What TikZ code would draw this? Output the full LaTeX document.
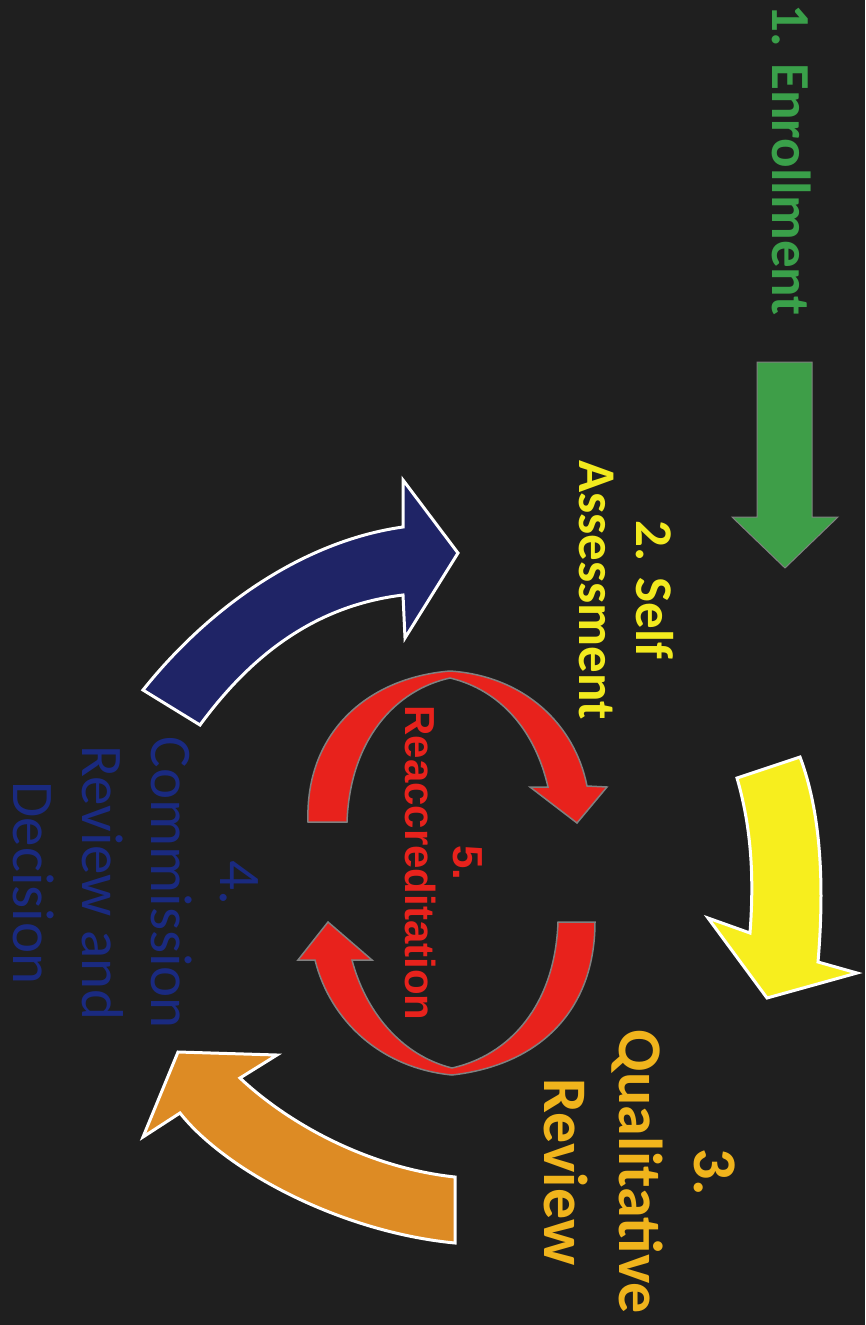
\documentclass[tikz,border=0pt]{standalone}
\usepackage{fontspec}
\setmainfont{Carlito}
\newfontfamily\arialfont{Liberation Sans}
\usepackage{tikz}
\definecolor{bgdark}{HTML}{1F1F1F}
\definecolor{enrollgreen}{HTML}{3AA04A}
\definecolor{arrowgreen}{HTML}{3E9E48}
\definecolor{selfyellow}{HTML}{F2EA1E}
\definecolor{arrowyellow}{HTML}{F7EE1E}
\definecolor{qualgold}{HTML}{F0B41C}
\definecolor{arroworange}{HTML}{DD8B24}
\definecolor{arrownavy}{HTML}{1F2466}
\definecolor{commblue}{HTML}{1A2A80}
\definecolor{reaccred}{HTML}{E8221C}
\tikzstyle{steplabel} = [rotate=-90, align=center, inner sep=0pt, font=\bfseries]
\tikzstyle{bigarrow} = [draw=white, line width=3pt, line join=miter]
\tikzstyle{redarrow} = [fill=reaccred, draw=gray, line width=1.5pt, line join=miter]

\begin{document}
\begin{tikzpicture}[x=1pt, y=-1pt]
                \useasboundingbox (0,0) rectangle (865,1325);
                \fill[bgdark] (0,0) rectangle (865,1325);

                \node[steplabel, text=enrollgreen, font=\bfseries\fontsize{55}{60}\selectfont] (enroll) at (792,160) {1. Enrollment};
                \filldraw[fill=arrowgreen, draw=gray, line width=1pt]
                    (757,362) -- (812,362) -- (812,517) -- (838,517) -- (785,568) -- (732,517) -- (757,517) -- cycle;

                \node[steplabel, text=selfyellow, font=\bfseries\fontsize{53}{57}\selectfont] (selfassess) at (626,590) {2. Self\\Assessment};
                \filldraw[bigarrow, fill=arrowyellow]
                    (737,778) .. controls (752,830) and (754,880) .. (750,933) -- (708,918) -- (767,998) -- (857,973) -- (818,962)
                    .. controls (825,880) and (820,810) .. (800,757) -- cycle;

                \node[steplabel, text=qualgold, font=\bfseries\fontsize{62}{75}\selectfont] (qualreview) at (640,1172) {3.\\Qualitative\\Review};
                \filldraw[bigarrow, fill=arroworange]
                    (455,1177) .. controls (370,1168) and (290,1125) .. (240,1078) -- (277,1055) -- (178,1052) -- (143,1137) -- (180,1113)
                    .. controls (225,1170) and (340,1232) .. (455,1243) -- cycle;

                \node[steplabel, text=commblue, font=\fontsize{59}{69}\selectfont] (commission) at (136,883) {4.\\Commission\\Review and\\Decision};
                \filldraw[bigarrow, fill=arrownavy]
                    (143,690) .. controls (215,600) and (310,540) .. (403,527) -- (403,480) -- (458,553) -- (405,638) -- (403,595)
                    .. controls (320,605) and (255,650) .. (200,725) -- cycle;

                \filldraw[redarrow]
                    (308,822) .. controls (305,735) and (365,678) .. (450,671) .. controls (525,676) and (575,725) .. (587,786)
                    -- (607,787) -- (577,823) -- (530,787) -- (548,787)
                    .. controls (535,730) and (500,690) .. (450,678) .. controls (395,690) and (350,740) .. (347,822) -- cycle;
                \filldraw[redarrow]
                    (595,922) .. controls (595,1010) and (540,1065) .. (452,1075) .. controls (380,1068) and (330,1020) .. (315,960)
                    -- (298,960) -- (328,922) -- (372,960) -- (352,960)
                    .. controls (365,1010) and (400,1055) .. (452,1068) .. controls (510,1055) and (555,1005) .. (558,922) -- cycle;
                \node[steplabel, text=reaccred, font=\arialfont\bfseries\fontsize{42}{48}\selectfont] (reaccred) at (444,863) {5.\\Reaccreditation};
            \end{tikzpicture}
\end{document}
